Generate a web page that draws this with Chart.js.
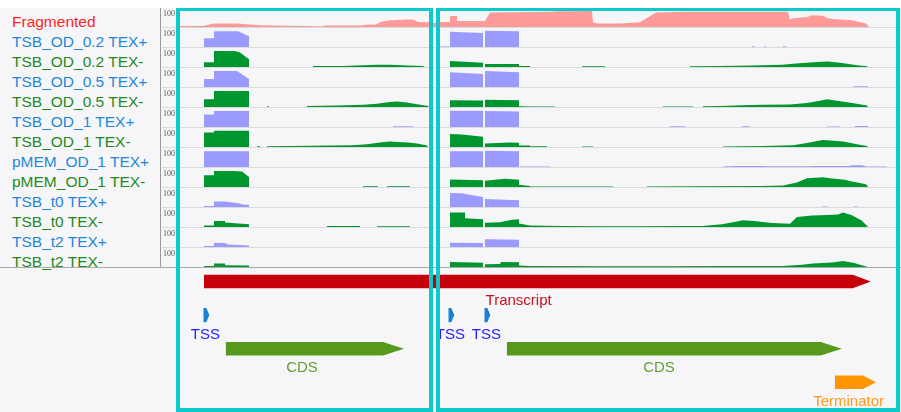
<!DOCTYPE html>
<html>
<head>
<meta charset="utf-8">
<script src="https://cdn.jsdelivr.net/npm/chart.js@4/dist/chart.umd.min.js"></script>
<style>
  html, body { margin: 0; padding: 0; background: #fff; }
  #view { position: relative; width: 901px; height: 412px; overflow: hidden; background: #f6f6f8;
          font-family: "Liberation Sans", Arial, sans-serif; }
  #topStrip { position: absolute; left: 0; top: 0; width: 901px; height: 8px; background: #fff; }
  .label { position: absolute; left: 12px; font-size: 15.5px; line-height: 15px; white-space: nowrap; }
  .track { position: absolute; left: 162px; width: 739px; height: 19px; border-bottom: 1px solid #dadada; }
  .track canvas, #annot canvas { display: block; }
  #divider { position: absolute; left: 160px; top: 8px; width: 1px; height: 259px; background: #9a9a9a; }
  #baseLine { position: absolute; left: 0; top: 267px; width: 901px; height: 1px; background: #a9a9a9; }
  #annot { position: absolute; left: 162px; top: 268px; width: 739px; height: 144px; }
  .box { position: absolute; box-sizing: border-box; border: 4px solid #0ccaca; border-top-width: 3px; }
</style>
</head>
<body>
<div id="view">
  <div id="topStrip"></div>
  <div id="labels"></div>
  <div id="tracks"></div>
  <div id="divider"></div>
  <div id="baseLine"></div>
  <div id="annot"><canvas id="annotChart" width="739" height="144"></canvas></div>
  <div class="box" style="left:176px; top:8px; width:257px; height:404px;"></div>
  <div class="box" style="left:436px; top:8px; width:464px; height:404px;"></div>
</div>
<script>
// genome window, in position units (0 = left edge of the track area)
const posMin = 0;
const posMax = 739;

const trackNames = [
    'Fragmented',
    'TSB_OD_0.2 TEX+', 'TSB_OD_0.2 TEX-',
    'TSB_OD_0.5 TEX+', 'TSB_OD_0.5 TEX-',
    'TSB_OD_1 TEX+', 'TSB_OD_1 TEX-',
    'pMEM_OD_1 TEX+', 'pMEM_OD_1 TEX-',
    'TSB_t0 TEX+', 'TSB_t0 TEX-',
    'TSB_t2 TEX+', 'TSB_t2 TEX-'
];

// coverage profiles: [position, coverage] (track max = 100)
const frag = [[14,0],[14,6],[41,6],[46,13],[52,20],[75,20],[85,15],[98,10],[121,7],[148,6],[150,4],[161,4],[163,8],[200,8],[203,13],[214,14],[218,28],[228,38],[245,42],[252,40],[256,28],[268,26],[272,22],[278,28],[288,28],[288,61],[295,61],[295,33],[323,33],[328,80],[388,85],[395,88],[430,89],[431,26],[435,20],[458,20],[478,27],[494,80],[520,85],[626,85],[628,40],[631,48],[645,56],[650,65],[661,63],[665,50],[671,45],[690,38],[704,20],[707,0]];
const od02Plus = [[42,0],[42,48],[52,48],[52,88],[76,88],[80,78],[87,60],[87,0],[274,0],[274,3],[288,3],[288,85],[321,78],[321,0],[323,0],[323,90],[357,88],[357,0],[590,0],[590,4],[593,4],[593,0],[602,0],[602,4],[604,4],[604,0],[621,0],[621,4],[624,4],[624,0]];
const od02Minus = [[42,0],[42,26],[52,26],[52,89],[73,89],[78,80],[87,43],[87,0],[151,0],[151,5],[181,6],[201,10],[215,13],[228,13],[245,8],[261,5],[263,0],[288,0],[288,33],[321,24],[321,0],[323,0],[323,17],[357,17],[357,5],[368,5],[368,0],[420,0],[420,4],[443,4],[443,0],[528,0],[528,4],[558,5],[590,8],[620,12],[631,18],[655,28],[666,30],[680,22],[695,10],[705,4],[706,0]];
const od05Plus = [[42,0],[42,44],[52,44],[52,89],[75,89],[87,44],[87,0],[288,0],[288,82],[321,72],[321,0],[323,0],[323,89],[357,82],[357,0],[691,0],[691,4],[706,4],[706,0]];
const od05Minus = [[42,0],[42,43],[52,43],[52,89],[87,89],[87,0],[105,0],[105,4],[107,4],[107,0],[145,0],[145,5],[175,8],[201,12],[215,18],[228,28],[235,31],[245,25],[255,15],[266,6],[267,0],[288,0],[288,37],[321,36],[321,0],[323,0],[323,40],[357,38],[357,4],[368,3],[393,3],[393,0],[501,0],[501,3],[531,3],[531,0],[541,0],[541,4],[558,5],[580,10],[601,12],[628,14],[645,22],[658,35],[665,43],[675,35],[690,22],[705,8],[706,0]];
const od1Plus = [[42,0],[42,70],[52,70],[52,89],[87,89],[87,0],[231,0],[231,4],[251,4],[251,0],[288,0],[288,90],[321,90],[321,0],[323,0],[323,89],[357,86],[357,0],[508,0],[508,4],[523,4],[523,0],[580,0],[580,4],[588,4],[588,0],[665,0],[665,3],[678,3],[678,0],[693,0],[693,5],[706,5],[706,0]];
const od1Minus = [[42,0],[42,80],[52,80],[52,90],[87,90],[87,0],[95,0],[95,4],[98,4],[98,0],[105,0],[105,4],[128,6],[168,8],[190,10],[205,15],[218,25],[228,30],[235,28],[246,25],[255,20],[265,8],[266,0],[288,0],[288,72],[300,70],[321,57],[321,0],[323,0],[323,20],[348,25],[357,24],[357,8],[368,8],[368,4],[385,4],[385,0],[420,0],[420,3],[431,3],[431,0],[561,0],[561,3],[601,5],[620,8],[631,10],[645,22],[655,33],[661,39],[672,35],[681,30],[695,15],[705,5],[706,0]];
const pmemPlus = [[42,0],[42,88],[87,88],[87,0],[288,0],[288,88],[321,88],[321,0],[323,0],[323,90],[357,88],[357,0],[358,0],[358,3],[388,3],[388,0],[561,0],[561,3],[575,5],[601,5],[605,4],[648,4],[650,5],[688,5],[690,10],[700,10],[705,3],[725,3],[725,0]];
const pmemMinus = [[42,0],[42,65],[52,65],[52,89],[73,89],[80,86],[87,56],[87,0],[201,0],[201,4],[216,4],[216,0],[225,0],[225,4],[248,4],[248,0],[288,0],[288,41],[321,37],[321,0],[323,0],[323,35],[343,46],[357,40],[357,12],[368,6],[368,3],[451,3],[451,0],[485,0],[485,3],[535,4],[600,6],[621,8],[635,25],[645,48],[661,54],[670,47],[683,40],[690,30],[704,15],[706,0]];
const t0Plus = [[42,0],[42,6],[52,6],[52,31],[63,30],[78,19],[80,14],[87,13],[87,0],[288,0],[288,78],[300,76],[306,70],[321,56],[321,0],[323,0],[323,45],[357,38],[357,0],[660,0],[660,3],[666,3],[666,0],[691,0],[691,3],[696,3],[696,0]];
const t0Minus = [[42,0],[42,9],[52,9],[52,33],[63,33],[63,25],[87,15],[87,0],[165,0],[165,6],[178,6],[198,5],[198,0],[215,0],[215,4],[248,4],[248,0],[288,0],[288,80],[303,80],[303,48],[321,43],[321,0],[323,0],[323,24],[338,26],[350,40],[357,43],[357,20],[368,8],[400,5],[440,4],[470,4],[520,5],[540,6],[560,15],[575,30],[581,37],[592,33],[610,22],[628,18],[635,55],[650,64],[665,66],[676,70],[681,80],[690,65],[700,35],[706,0]];
const t2Plus = [[42,0],[42,6],[52,6],[52,24],[63,22],[66,14],[87,9],[87,0],[288,0],[288,24],[321,22],[321,0],[323,0],[323,43],[357,40],[357,0]];
const t2Minus = [[42,0],[42,6],[52,6],[52,19],[63,19],[63,10],[87,8],[87,0],[288,0],[288,28],[321,24],[321,0],[323,0],[323,15],[338,16],[339,28],[357,26],[357,8],[368,5],[450,4],[501,4],[560,5],[621,6],[640,12],[651,20],[670,25],[681,33],[692,22],[706,0]];

const coverage = [frag, od02Plus, od02Minus, od05Plus, od05Minus, od1Plus, od1Minus,
                  pmemPlus, pmemMinus, t0Plus, t0Minus, t2Plus, t2Minus];

// annotation features
const featTypes = ['Transcript', 'TSS', 'TSS', 'TSS', 'CDS', 'CDS', 'Terminator'];
const featStart = [42, 41.3, 286.3, 322.3, 63.7, 344.7, 673];
const featEnd   = [708.7, 41.3, 286.3, 322.3, 242, 679.7, 714];
const featLane  = [0, 1, 1, 1, 2, 2, 3];

// styling
const featStyle = {
    Transcript: { fill: '#c5000b', text: '#c8101c', head: 18, half: 0.2, minLen: 0 },
    TSS:        { fill: '#1b7fd5', text: '#2323ff', head: 3,  half: 0.21, minLen: 6 },
    CDS:        { fill: '#56991c', text: '#5f9f33', head: 21, half: 0.2, minLen: 0 },
    Terminator: { fill: '#ff9500', text: '#ff9a1a', head: 13, half: 0.2, minLen: 0 }
};

function trackStyle(name) {
    if (name === 'Fragmented') return { label: '#ff1f1f', fill: '#ff9a9a' };
    if (name.endsWith('TEX+')) return { label: '#1e88d8', fill: '#9b9bff' };
    return { label: '#1f8a1f', fill: '#00962f' };
}

const hundredLabel = {
    id: 'hundredLabel',
    afterDraw(chart) {
        const { ctx, scales: { y } } = chart;
        ctx.save();
        ctx.font = '8px "Liberation Serif", serif';
        ctx.fillStyle = '#555';
        ctx.textBaseline = 'middle';
        ctx.fillText(String(y.max), 1, y.top + 4.5);
        ctx.restore();
    }
};

const labelsBox = document.getElementById('labels');
const tracksBox = document.getElementById('tracks');

trackNames.forEach((name, i) => {
    const rowLine = 27 + 20 * i;
    const st = trackStyle(name);

    const lab = document.createElement('div');
    lab.className = 'label';
    lab.style.top = (rowLine - 13) + 'px';
    lab.style.color = st.label;
    lab.textContent = name;
    labelsBox.appendChild(lab);

    const row = document.createElement('div');
    row.className = 'track';
    row.style.top = (rowLine - 19) + 'px';
    const cv = document.createElement('canvas');
    cv.width = 739;
    cv.height = 19;
    row.appendChild(cv);
    tracksBox.appendChild(row);

    new Chart(cv, {
        type: 'line',
        data: {
            datasets: [{
                data: coverage[i].map(([x, y]) => ({ x, y })),
                fill: 'origin',
                backgroundColor: st.fill,
                borderColor: 'rgba(0,0,0,0)',
                borderWidth: 0,
                pointRadius: 0,
                tension: 0
            }]
        },
        options: {
            responsive: false,
            animation: false,
            devicePixelRatio: 1,
            events: [],
            layout: { padding: { top: 1 } },
            scales: {
                x: { type: 'linear', min: posMin, max: posMax, display: false },
                y: { min: 0, max: 100, display: false }
            },
            plugins: { legend: { display: false }, tooltip: { enabled: false } }
        },
        plugins: [hundredLabel]
    });
});

// each feature = upper edge filled to lower edge, pointed at its 3' end
const featDatasets = [];
featTypes.forEach((type, i) => {
    const s = featStyle[type];
    const start = featStart[i];
    const tip = Math.max(featEnd[i], start + s.minLen);
    const neck = tip - s.head;
    const lane = featLane[i];
    featDatasets.push({
        data: [{ x: start, y: lane - s.half }, { x: neck, y: lane - s.half }, { x: tip, y: lane }],
        fill: '+1', backgroundColor: s.fill, borderColor: 'rgba(0,0,0,0)', borderWidth: 0,
        pointRadius: 0, tension: 0
    });
    featDatasets.push({
        data: [{ x: start, y: lane + s.half }, { x: neck, y: lane + s.half }, { x: tip, y: lane }],
        fill: false, borderColor: 'rgba(0,0,0,0)', borderWidth: 0, pointRadius: 0, tension: 0
    });
});

const featLabels = {
    id: 'featLabels',
    afterDatasetsDraw(chart) {
        const { ctx, scales: { x, y } } = chart;
        ctx.save();
        ctx.font = '15px "Liberation Sans", Arial, sans-serif';
        ctx.textAlign = 'center';
        ctx.textBaseline = 'alphabetic';
        featTypes.forEach((type, i) => {
            const s = featStyle[type];
            const start = featStart[i];
            const tip = Math.max(featEnd[i], start + s.minLen);
            const mid = type === 'TSS'
                ? (start + tip) / 2 - 1
                : start + 0.485 * (tip - s.head - start);
            ctx.fillStyle = s.text;
            ctx.fillText(type, x.getPixelForValue(mid), y.getPixelForValue(featLane[i]) + 23.5);
        });
        ctx.restore();
    }
};

new Chart(document.getElementById('annotChart'), {
    type: 'line',
    data: { datasets: featDatasets },
    options: {
        responsive: false,
        animation: false,
        devicePixelRatio: 1,
        events: [],
        scales: {
            x: { type: 'linear', min: posMin, max: posMax, display: false },
            y: { min: -0.402, max: 3.884, reverse: true, display: false }
        },
        plugins: { legend: { display: false }, tooltip: { enabled: false } }
    },
    plugins: [featLabels]
});
</script>
</body>
</html>
